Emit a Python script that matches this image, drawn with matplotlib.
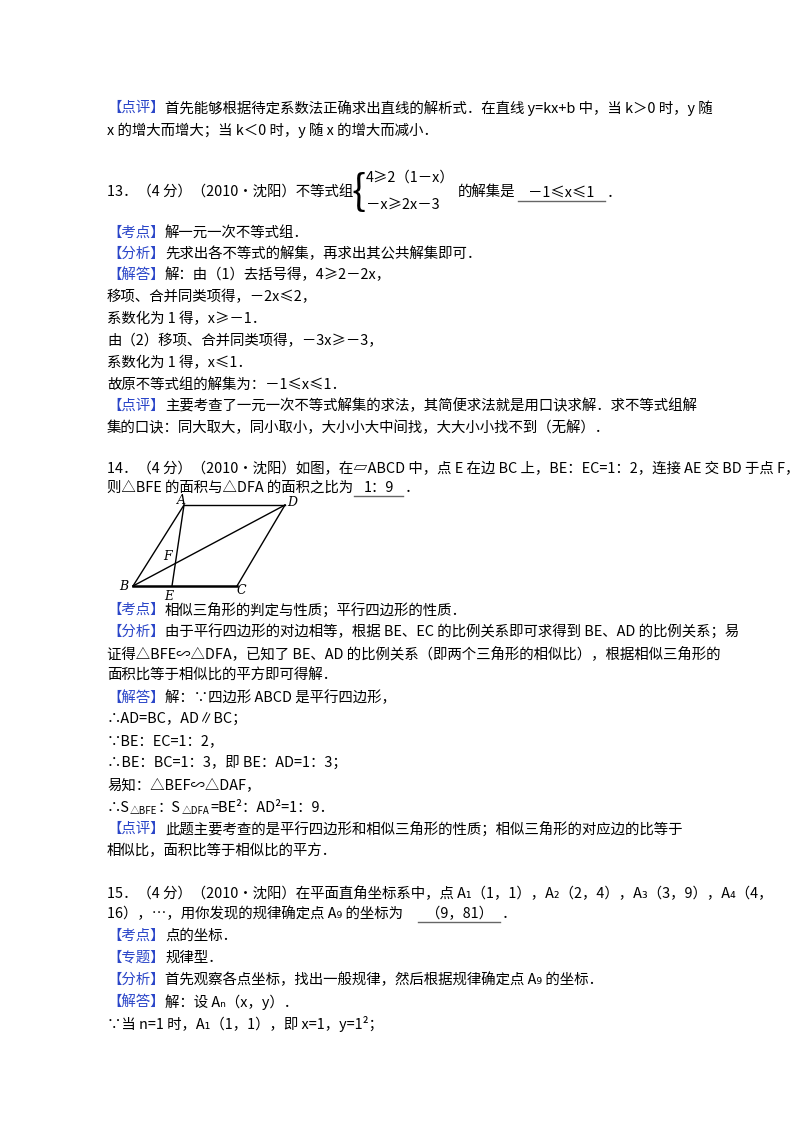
import matplotlib.pyplot as plt

plt.rcParams['font.family'] = ['Noto Sans CJK SC', 'DejaVu Sans']

BLUE = '#2a45c8'
FS = 10.4

# (y, tag, text) tag shown in blue brackets
lines = [
    (108, '【点评】', '首先能够根据待定系数法正确求出直线的解析式．在直线 y=kx+b 中，当 k＞0 时，y 随'),
    (130, '', 'x 的增大而增大；当 k＜0 时，y 随 x 的增大而减小．'),
    (233, '【考点】', '解一元一次不等式组．'),
    (254, '【分析】', '先求出各不等式的解集，再求出其公共解集即可．'),
    (275, '【解答】', '解：由（1）去括号得，4≥2－2x，'),
    (297, '', '移项、合并同类项得，－2x≤2，'),
    (319, '', '系数化为 1 得，x≥－1．'),
    (341, '', '由（2）移项、合并同类项得，－3x≥－3，'),
    (363, '', '系数化为 1 得，x≤1．'),
    (385, '', '故原不等式组的解集为：－1≤x≤1．'),
    (406, '【点评】', '主要考查了一元一次不等式解集的求法，其简便求法就是用口诀求解．求不等式组解'),
    (428, '', '集的口诀：同大取大，同小取小，大小小大中间找，大大小小找不到（无解）．'),
    (469, '', '14．（4 分）（2010•沈阳）如图，在▱ABCD 中，点 E 在边 BC 上，BE：EC=1：2，连接 AE 交 BD 于点 F，'),
    (488, '', '则△BFE 的面积与△DFA 的面积之比为'),
    (610, '【考点】', '相似三角形的判定与性质；平行四边形的性质．'),
    (632, '【分析】', '由于平行四边形的对边相等，根据 BE、EC 的比例关系即可求得到 BE、AD 的比例关系；易'),
    (654, '', '证得△BFE∽△DFA，已知了 BE、AD 的比例关系（即两个三角形的相似比），根据相似三角形的'),
    (676, '', '面积比等于相似比的平方即可得解．'),
    (698, '【解答】', '解：∵四边形 ABCD 是平行四边形，'),
    (719, '', '∴AD=BC，AD∥BC；'),
    (741, '', '∵BE：EC=1：2，'),
    (763, '', '∴BE：BC=1：3，即 BE：AD=1：3；'),
    (785, '', '易知：△BEF∽△DAF，'),
    (829, '【点评】', '此题主要考查的是平行四边形和相似三角形的性质；相似三角形的对应边的比等于'),
    (851, '', '相似比，面积比等于相似比的平方．'),
    (893, '', '15．（4 分）（2010•沈阳）在平面直角坐标系中，点 A₁（1，1），A₂（2，4），A₃（3，9），A₄（4，'),
    (914, '', '16），…，用你发现的规律确定点 A₉ 的坐标为'),
    (936, '【考点】', '点的坐标．'),
    (958, '【专题】', '规律型．'),
    (980, '【分析】', '首先观察各点坐标，找出一般规律，然后根据规律确定点 A₉ 的坐标．'),
    (1002, '【解答】', '解：设 Aₙ（x，y）．'),
    (1024, '', '∵当 n=1 时，A₁（1，1），即 x=1，y=1²；'),
]

# answers on underlines: (y, x0, x1, text)
answers = [
    (193, 518, 605, '－1≤x≤1'),
    (488, 354, 403, '1：9'),
    (914, 418, 500, '（9，81）'),
]

# parallelogram vertices (pixels)
pts = {'A': (184, 505), 'B': (133, 586), 'C': (237, 586), 'D': (285, 505), 'E': (172, 586)}

fig = plt.figure(figsize=(8, 11.32), dpi=100)
ax = fig.add_axes([0, 0, 1, 1])
ax.set_xlim(0, 800)
ax.set_ylim(1132, 0)
ax.axis('off')

X0 = 107
for y, tag, txt in lines:
    x = X0
    if tag:
        ax.text(x, y, tag, color=BLUE, fontsize=FS, va='center')
        x += 58
    ax.text(x, y, txt, fontsize=FS, va='center')

# problem 13 header with inequality system
ax.text(X0, 193, '13．（4 分）（2010•沈阳）不等式组', fontsize=FS, va='center')
ax.text(351, 192, '{', fontsize=30, va='center', fontweight='light')
ax.text(366, 178, '4≥2（1－x）', fontsize=FS, va='center')
ax.text(366, 205, '－x≥2x－3', fontsize=FS, va='center')
ax.text(458, 193, '的解集是', fontsize=FS, va='center')

for y, x0, x1, txt in answers:
    ax.text((x0 + x1) / 2, y, txt, fontsize=FS, va='center', ha='center')
    ax.plot([x0, x1], [y + 8, y + 8], color='#666666', lw=1)
    ax.text(x1 + 2, y, '．', fontsize=FS, va='center')

# area ratio line with small subscripts
y = 808
ax.text(X0, y, '∴S', fontsize=FS, va='center')
ax.text(130, y + 3, '△BFE', fontsize=7, va='center')
ax.text(158, y, '：S', fontsize=FS, va='center')
ax.text(182, y + 3, '△DFA', fontsize=7, va='center')
ax.text(210, y, '=BE²：AD²=1：9．', fontsize=FS, va='center')

# geometry figure
A, B, C, D, E = (pts[k] for k in 'ABCDE')
for p, q in [(A, D), (D, C), (B, A), (A, E), (B, D)]:
    ax.plot([p[0], q[0]], [p[1], q[1]], color='black', lw=1)
ax.plot([B[0], C[0]], [B[1], C[1]], color='black', lw=1.8)
# F = AE ∩ BD
t = ((B[0] - A[0]) * (D[1] - B[1]) - (B[1] - A[1]) * (D[0] - B[0])) / \
    ((E[0] - A[0]) * (D[1] - B[1]) - (E[1] - A[1]) * (D[0] - B[0]))
F = (A[0] + t * (E[0] - A[0]), A[1] + t * (E[1] - A[1]))
lab = dict(fontsize=9, style='italic', family='DejaVu Serif', va='center', ha='center')
ax.text(A[0] - 3, A[1] - 4, 'A', **lab)
ax.text(D[0] + 7, D[1] - 3, 'D', **lab)
ax.text(B[0] - 9, B[1], 'B', **lab)
ax.text(C[0] + 4, C[1] + 4, 'C', **lab)
ax.text(E[0] - 3, E[1] + 11, 'E', **lab)
ax.text(F[0] - 8, F[1] - 7, 'F', **lab)

fig.savefig('out.png', dpi=100)
